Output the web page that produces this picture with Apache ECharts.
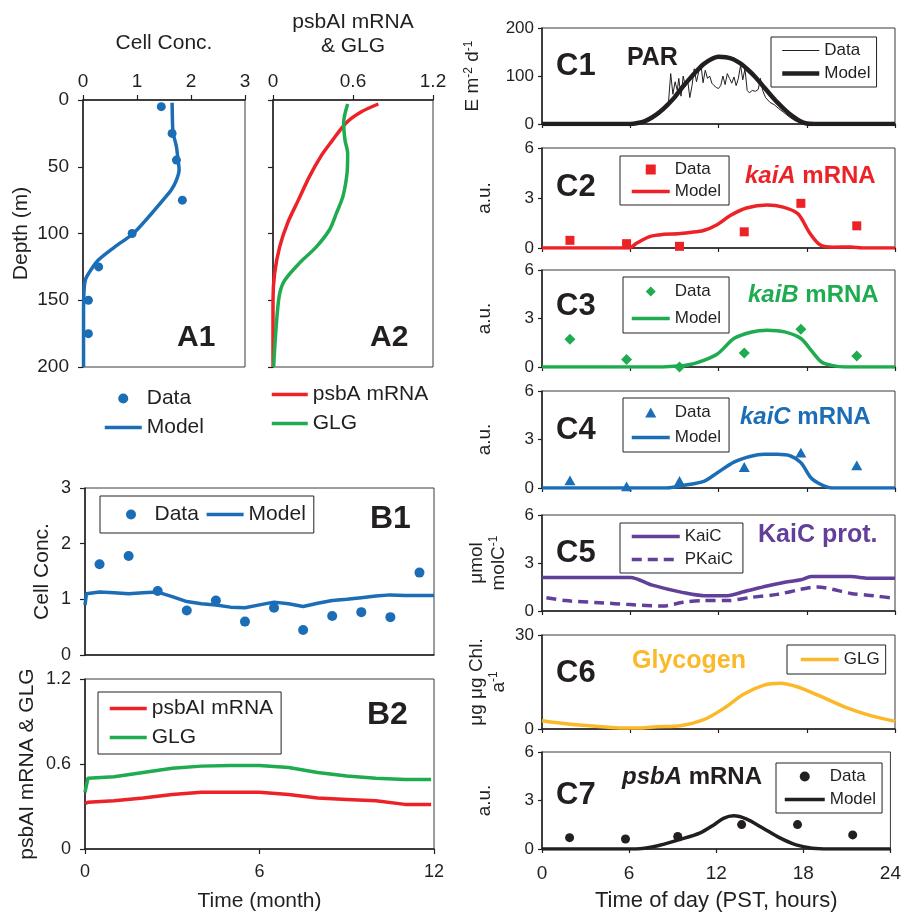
<!DOCTYPE html>
<html>
<head>
<meta charset="utf-8">
<script src="https://cdn.jsdelivr.net/npm/echarts@6/dist/echarts.min.js"></script>
<style>
  html, body { margin: 0; padding: 0; background: #fff; }
  #chart { width: 904px; height: 913px; }
</style>
</head>
<body>
<div id="chart"></div>
<script>
// ---- A1: cell concentration vs depth
var a1DataDepth = [5, 25, 45, 75, 100, 125, 150, 175];
var a1DataConc = [1.45, 1.65, 1.73, 1.84, 0.91, 0.29, 0.1, 0.1];
var a1ModelDepth = [2, 20, 25, 35, 45, 52, 60, 67, 75, 85, 100, 110, 120, 127, 134, 142, 160, 200];
var a1ModelConc = [1.65, 1.66, 1.67, 1.73, 1.76, 1.78, 1.73, 1.64, 1.48, 1.27, 0.93, 0.59, 0.28, 0.15, 0.05, 0.02, 0.01, 0.01];

// ---- A2: psbA mRNA & GLG vs depth
var a2PsbaDepth = [3, 9, 17, 31, 42, 57, 75, 92, 110, 130, 150, 200];
var a2Psba = [0.79, 0.66, 0.55, 0.44, 0.36, 0.275, 0.19, 0.11, 0.05, 0.012, 0, 0];
var a2GlgDepth = [3, 17, 30, 40, 55, 72, 85, 97, 110, 122, 135, 145, 162, 187, 200];
var a2Glg = [0.56, 0.53, 0.54, 0.56, 0.555, 0.525, 0.475, 0.425, 0.325, 0.2, 0.088, 0.05, 0.03, 0.012, 0.005];

// ---- B1: cell concentration over a year
var b1DataMonth = [0.5, 1.5, 2.5, 3.5, 4.5, 5.5, 6.5, 7.5, 8.5, 9.5, 10.5, 11.5];
var b1DataConc = [1.63, 1.78, 1.15, 0.8, 0.98, 0.6, 0.85, 0.45, 0.7, 0.77, 0.68, 1.48];
var b1ModelMonth = [0, 0.05, 0.5, 1, 1.5, 2, 2.5, 3, 3.5, 4, 4.5, 5, 5.5, 6, 6.5, 7, 7.5, 8, 8.5, 9, 9.5, 10, 10.5, 11, 11.5, 12];
var b1ModelConc = [0.9, 1.1, 1.13, 1.12, 1.1, 1.12, 1.13, 1.05, 0.96, 0.92, 0.9, 0.86, 0.85, 0.9, 0.95, 0.92, 0.87, 0.93, 0.98, 1.0, 1.03, 1.06, 1.08, 1.07, 1.07, 1.07];

// ---- B2: psbAI mRNA & GLG over a year
var b2Month = [0, 0.1, 1, 2, 3, 4, 5, 6, 7, 8, 9, 10, 11, 11.9];
var b2Psba = [0.32, 0.33, 0.34, 0.36, 0.385, 0.4, 0.4, 0.4, 0.385, 0.36, 0.35, 0.34, 0.315, 0.315];
var b2Glg = [0.4, 0.5, 0.51, 0.54, 0.57, 0.585, 0.59, 0.59, 0.575, 0.54, 0.515, 0.5, 0.49, 0.49];

// ---- C panels: diel cycle
var cSampleHours = [1.9, 5.75, 9.35, 13.75, 17.6, 21.4];

var c1ModelHour = [0, 6, 6.5, 7, 7.5, 8, 8.5, 9, 9.5, 10, 10.5, 11, 11.5, 12, 12.5, 13, 13.5, 14, 14.5, 15, 15.5, 16, 16.5, 17, 17.5, 18, 18.5, 24];
var c1Model = [0, 0, 2, 6, 14, 25, 39, 55, 75, 93, 110, 125, 135, 140, 139, 135, 126, 113, 98, 80, 62, 45, 30, 17, 7, 1, 0, 0];
var c1DataHour = [0, 6.5, 7, 7.3, 7.6, 8, 8.3, 8.6, 8.75, 8.9, 9.05, 9.2, 9.3, 9.45, 9.6, 9.75, 9.9, 10.05, 10.2, 10.35, 10.5, 10.65, 10.8, 10.95, 11.1, 11.25, 11.4, 11.55, 11.7, 11.85, 12, 12.15, 12.3, 12.45, 12.6, 12.75, 12.9, 13.05, 13.2, 13.35, 13.5, 13.65, 13.8, 13.95, 14.1, 14.3, 14.5, 14.7, 14.85, 15, 15.2, 15.5, 15.8, 16.1, 16.4, 16.8, 17.2, 17.6, 18, 24];
var c1Data = [0, 0, 4, 10, 16, 20, 30, 45, 105, 62, 88, 70, 95, 58, 100, 78, 92, 55, 80, 115, 88, 108, 125, 86, 112, 95, 100, 85, 80, 76, 74, 80, 100, 82, 105, 95, 85, 98, 80, 95, 122, 92, 115, 70, 65, 70, 68, 72, 95, 70, 55, 45, 40, 32, 25, 15, 7, 2, 0, 0];

var c2Data = [0.46, 0.26, 0.1, 0.97, 2.68, 1.33];
var c2ModelHour = [0, 5.9, 6.45, 7.36, 8.26, 9.28, 10.07, 10.98, 11.9, 12.8, 13.9, 15.3, 16.4, 17.4, 18.2, 18.9, 19.8, 21, 21.8, 24];
var c2Model = [0, 0, 0.3, 0.7, 0.82, 0.85, 0.93, 1.05, 1.4, 1.95, 2.4, 2.58, 2.45, 2.05, 0.9, 0.2, 0.05, 0.06, 0, 0];

var c3Data = [1.72, 0.46, 0.0, 0.87, 2.34, 0.68];
var c3ModelHour = [0, 8, 9, 9.6, 10.5, 11.9, 13.05, 14.2, 15.3, 16.5, 17.6, 18.3, 19, 19.7, 20.6, 24];
var c3Model = [0, 0, 0.05, 0.08, 0.25, 0.79, 1.76, 2.15, 2.27, 2.17, 1.76, 1.03, 0.31, 0.1, 0, 0];

var c4Data = [0.47, 0.1, 0.43, 1.3, 2.19, 1.4];
var c4ModelHour = [0, 8.5, 9.6, 11, 11.9, 13.05, 14.2, 15.1, 16, 16.9, 17.6, 18.3, 19, 19.7, 24];
var c4Model = [0, 0, 0.16, 0.41, 0.93, 1.6, 1.96, 2.08, 2.08, 1.98, 1.57, 0.62, 0.2, 0, 0];

var c5KaiCHour = [0, 6, 7.5, 9.6, 11, 12.6, 13.7, 15.3, 16.5, 17.6, 18.3, 21, 22.2, 24];
var c5KaiC = [2.1, 2.1, 1.62, 1.15, 0.96, 0.96, 1.2, 1.56, 1.8, 1.95, 2.15, 2.15, 2.05, 2.05];
var c5PKaiCHour = [0.3, 1.6, 3.9, 6, 8.2, 9.6, 11, 12.6, 14.2, 16, 17.6, 18.7, 21, 22.6, 24];
var c5PKaiC = [0.83, 0.65, 0.52, 0.4, 0.31, 0.55, 0.65, 0.65, 0.85, 1.04, 1.35, 1.5, 1.1, 0.95, 0.79];

var c6Hour = [0, 1.8, 3.9, 5.5, 6.7, 7.8, 9.4, 11, 12.4, 13.7, 15.1, 16.2, 17.4, 18.8, 20.6, 22.4, 24];
var c6Glg = [2.65, 1.6, 0.8, 0.3, 0.3, 0.7, 1.06, 2.97, 6.7, 11.1, 14, 14.6, 13.4, 10.7, 7, 4.2, 2.5];

var c7Data = [0.7, 0.62, 0.77, 1.51, 1.51, 0.87];
var c7ModelHour = [0, 6.5, 7.75, 9.55, 10.9, 11.85, 12.5, 13.2, 14.1, 15.2, 16.35, 17.5, 18.6, 19.75, 24];
var c7Model = [0, 0, 0.15, 0.6, 1.0, 1.5, 1.9, 2.05, 1.85, 1.3, 0.7, 0.25, 0.05, 0, 0];

var font = 'Liberation Sans';
var ink = '#231f20';
var blue = '#1b6db6';
var red = '#ec2227';
var green = '#1fab4f';
var purple = '#623f98';
var yellow = '#fbb829';

// marker shapes as paths so the legend keeps their aspect
var squareIcon = 'path://M0,0H10V10H0Z';
var diamondIcon = 'path://M5,0L10,5L5,10L0,5Z';
var triangleIcon = 'path://M5,0L10,9H0Z';

function pts(xs, ys) {
    return xs.map(function (x, i) { return [x, ys[i]]; });
}

var chart = echarts.init(document.getElementById('chart'), null, { renderer: 'canvas' });

// grid boxes: A1, A2, B1, B2, C1..C7
var cTops = [28, 148, 270, 391, 515, 635, 752];
var cHeights = [96, 100, 97, 97, 96, 94, 99];
var grids = [
    { left: 83, top: 100, width: 162, height: 267 },
    { left: 273, top: 100, width: 160, height: 267 },
    { left: 85, top: 488, width: 349, height: 167 },
    { left: 85, top: 679, width: 349, height: 171 }
];
cTops.forEach(function (t, i) {
    grids.push({ left: 542, top: t, width: 353, height: cHeights[i] });
});
grids.forEach(function (g) {
    g.show = true;
    g.borderColor = '#3a3a3a';
    g.borderWidth = 1;
    g.containLabel = false;
});

function axis(gi, min, max, interval, fs, extra) {
    var a = {
        type: 'value', gridIndex: gi, min: min, max: max, interval: interval,
        axisLine: { show: true, onZero: false, lineStyle: { color: ink, width: 1.5 } },
        axisTick: { show: true, length: 5, lineStyle: { color: ink, width: 1.2 } },
        axisLabel: { color: ink, fontSize: fs, fontFamily: font, margin: 9 },
        splitLine: { show: false },
        nameTextStyle: { color: ink, fontFamily: font, fontSize: 21 }
    };
    return Object.assign(a, extra || {});
}

var xAxes = [
    axis(0, 0, 3, 1, 19, { position: 'top', name: 'Cell Conc.', nameLocation: 'middle', nameGap: 46 }),
    axis(1, 0, 1.2, 0.6, 19, {
        position: 'top', name: 'psbAI mRNA\n& GLG', nameLocation: 'middle', nameGap: 42,
        nameTextStyle: { color: ink, fontFamily: font, fontSize: 21, lineHeight: 24 }
    }),
    axis(2, 0, 12, 6, 18, { axisLabel: { show: false }, axisTick: { show: false } }),
    axis(3, 0, 12, 6, 18, { name: 'Time (month)', nameLocation: 'middle', nameGap: 42, axisLabel: { color: ink, fontSize: 18, fontFamily: font, margin: 14 } })
];
for (var i = 0; i < 7; i++) {
    var ex = { axisLabel: { show: false }, axisTick: { show: true, length: 4, lineStyle: { color: ink, width: 1.2 } } };
    if (i === 6) {
        ex = {
            axisTick: { show: true, length: 4, lineStyle: { color: ink, width: 1.2 } },
            axisLabel: { color: ink, fontSize: 19, fontFamily: font, margin: 15 },
            name: 'Time of day (PST, hours)', nameLocation: 'middle', nameGap: 41,
            nameTextStyle: { color: ink, fontFamily: font, fontSize: 22 }
        };
    }
    xAxes.push(axis(4 + i, 0, 24, 6, 17, ex));
}

var supRich = { s: { fontSize: 12, fontFamily: font, color: ink, verticalAlign: 'top', lineHeight: 12 } };
function cName(name, gap, lh) {
    return {
        name: name, nameLocation: 'middle', nameGap: gap,
        nameTextStyle: { color: ink, fontFamily: font, fontSize: 19, lineHeight: lh || 20, rich: supRich },
        axisTick: { show: true, length: 4, lineStyle: { color: ink, width: 1.2 } },
        axisLabel: { color: ink, fontSize: 17, fontFamily: font, margin: 8 }
    };
}

var yAxes = [
    axis(0, 0, 200, 50, 19, { inverse: true, name: 'Depth (m)', nameLocation: 'middle', nameGap: 51, axisLabel: { color: ink, fontSize: 19, fontFamily: font, margin: 14 } }),
    axis(1, 0, 200, 50, 19, { inverse: true, axisLabel: { show: false } }),
    axis(2, 0, 3, 1, 18, { name: 'Cell Conc.', nameLocation: 'middle', nameGap: 32, axisLabel: { color: ink, fontSize: 18, fontFamily: font, margin: 14 } }),
    axis(3, 0, 1.2, 0.6, 18, { name: 'psbAI mRNA & GLG', nameLocation: 'middle', nameGap: 47, axisLabel: { color: ink, fontSize: 18, fontFamily: font, margin: 14 } }),
    axis(4, 0, 200, 100, 17, cName('E m{s|-2} d{s|-1}', 59)),
    axis(5, 0, 6, 3, 17, cName('a.u.', 47)),
    axis(6, 0, 6, 3, 17, cName('a.u.', 47)),
    axis(7, 0, 6, 3, 17, cName('a.u.', 47)),
    axis(8, 0, 6, 3, 17, cName('μmol\nmolC{s|-1}', 32, 22)),
    axis(9, 0, 30, 30, 17, cName('μg μg Chl.\na{s|-1}', 32, 22)),
    axis(10, 0, 6, 3, 17, cName('a.u.', 47))
];

function lineS(name, gi, data, color, width, extra) {
    var s = {
        name: name, type: 'line', xAxisIndex: gi, yAxisIndex: gi, data: data,
        symbol: 'none', smooth: 0.3, lineStyle: { color: color, width: width }, itemStyle: { color: color },
        z: 2
    };
    return Object.assign(s, extra || {});
}
function dotS(name, gi, data, color, symbol, size) {
    return {
        name: name, type: 'scatter', xAxisIndex: gi, yAxisIndex: gi, data: data,
        symbol: symbol, symbolSize: size, symbolKeepAspect: true,
        itemStyle: { color: color, opacity: 1 }, z: 3
    };
}

var series = [
    lineS('a1|Model', 0, pts(a1ModelConc, a1ModelDepth), blue, 3.5),
    dotS('a1|Data', 0, pts(a1DataConc, a1DataDepth), blue, 'circle', 9),
    lineS('a2|psbA mRNA', 1, pts(a2Psba, a2PsbaDepth), red, 3.5),
    lineS('a2|GLG', 1, pts(a2Glg, a2GlgDepth), green, 3.5),
    lineS('b1|Model', 2, pts(b1ModelMonth, b1ModelConc), blue, 3.5, { smooth: false }),
    dotS('b1|Data', 2, pts(b1DataMonth, b1DataConc), blue, 'circle', 10),
    lineS('b2|psbAI mRNA', 3, pts(b2Month, b2Psba), red, 3.5, { smooth: false }),
    lineS('b2|GLG', 3, pts(b2Month, b2Glg), green, 3.5, { smooth: false }),
    lineS('c1|Data', 4, pts(c1DataHour, c1Data), ink, 1, { smooth: false, z: 3 }),
    lineS('c1|Model', 4, pts(c1ModelHour, c1Model), ink, 4.5),
    dotS('c2|Data', 5, pts(cSampleHours, c2Data), red, squareIcon, 9),
    lineS('c2|Model', 5, pts(c2ModelHour, c2Model), red, 3.5),
    dotS('c3|Data', 6, pts(cSampleHours, c3Data), green, diamondIcon, 11),
    lineS('c3|Model', 6, pts(c3ModelHour, c3Model), green, 3.5),
    dotS('c4|Data', 7, pts(cSampleHours, c4Data), blue, triangleIcon, 11),
    lineS('c4|Model', 7, pts(c4ModelHour, c4Model), blue, 3.5),
    lineS('c5|KaiC', 8, pts(c5KaiCHour, c5KaiC), purple, 3.5),
    lineS('c5|PKaiC', 8, pts(c5PKaiCHour, c5PKaiC), purple, 3.5, { lineStyle: { color: purple, width: 3.5, type: [10, 6] } }),
    lineS('c6|GLG', 9, pts(c6Hour, c6Glg), yellow, 3.5),
    dotS('c7|Data', 10, pts(cSampleHours, c7Data), ink, 'circle', 9),
    lineS('c7|Model', 10, pts(c7ModelHour, c7Model), ink, 3.5)
];

// line entries get an invisible marker so only the stroke shows
function lineItem(name, w) {
    return { name: name, itemStyle: { opacity: 0 }, lineStyle: { width: w || 3.5 } };
}

function legendBox(names, left, top, o) {
    return {
        data: names, left: left, top: top, orient: o.orient || 'vertical',
        itemWidth: o.itemWidth || 37, itemHeight: 10, itemGap: o.itemGap || 6,
        padding: o.padding || 0, selectedMode: false, symbolKeepAspect: true,
        borderColor: o.border ? '#222' : 'transparent', borderWidth: o.border ? 1 : 0,
        textStyle: { color: ink, fontFamily: font, fontSize: o.fontSize || 17 },
        formatter: function (name) { return name.split('|')[1]; }
    };
}

var legends = [
    legendBox(['a1|Data', lineItem('a1|Model')], 103, 388, { fontSize: 21, itemGap: 8 }),
    legendBox([lineItem('a2|psbA mRNA'), lineItem('a2|GLG')], 270, 384, { fontSize: 21, itemGap: 8, itemWidth: 36 }),
    legendBox(['b1|Data', lineItem('b1|Model')], 100, 496, { fontSize: 21, orient: 'horizontal', border: true, padding: [8, 8, 8, 26], itemGap: 6 }),
    legendBox([lineItem('b2|psbAI mRNA'), lineItem('b2|GLG')], 98, 692, { fontSize: 21, border: true, padding: [6, 8, 6, 10], itemGap: 8 }),
    legendBox([lineItem('c1|Data', 1), lineItem('c1|Model', 4.5)], 771, 37, { border: true, padding: [5, 6, 5, 9], itemGap: 6 }),
    legendBox(['c2|Data', lineItem('c2|Model')], 620, 156, { border: true, padding: [5, 8, 5, 10], itemGap: 5, itemWidth: 38 }),
    legendBox(['c3|Data', lineItem('c3|Model')], 623, 277, { border: true, padding: [6, 8, 6, 7], itemGap: 10, itemWidth: 38 }),
    legendBox(['c4|Data', lineItem('c4|Model')], 623, 398, { border: true, padding: [6, 8, 6, 7], itemGap: 8, itemWidth: 38 }),
    legendBox([lineItem('c5|KaiC'), lineItem('c5|PKaiC')], 620, 523, { border: true, padding: [5, 10, 5, 10], itemGap: 6, itemWidth: 48 }),
    legendBox([lineItem('c6|GLG')], 787, 645, { border: true, padding: [6, 6, 6, 12], itemWidth: 38 }),
    legendBox(['c7|Data', lineItem('c7|Model')], 776, 763, { border: true, padding: [5, 6, 5, 7], itemGap: 6, itemWidth: 40 })
];

function label(text, x, cy, size, color, rich) {
    return {
        type: 'text', x: x, y: cy, silent: true,
        style: {
            text: text, fill: color || ink, fontFamily: font, fontSize: size, fontWeight: 'bold',
            verticalAlign: 'middle', align: 'left', rich: rich
        }
    };
}
function italicRich(size, color) {
    return { i: { fontStyle: 'italic', fontWeight: 'bold', fontSize: size, fontFamily: font, fill: color, color: color } };
}

var graphics = [
    label('A1', 177, 338, 30), label('A2', 370, 338, 30),
    label('B1', 370, 519, 32), label('B2', 367, 715, 32)
];
['C1', 'C2', 'C3', 'C4', 'C5', 'C6', 'C7'].forEach(function (t, i) {
    graphics.push(label(t, 556, [66, 187, 306, 430, 553, 673, 795][i], 31));
});
graphics.push(label('PAR', 627, 58, 25));
graphics.push(label('{i|kaiA} mRNA', 745, 176, 24, red, italicRich(24, red)));
graphics.push(label('{i|kaiB} mRNA', 748, 295, 24, green, italicRich(24, green)));
graphics.push(label('{i|kaiC} mRNA', 740, 417, 24, blue, italicRich(24, blue)));
graphics.push(label('KaiC prot.', 758, 535, 25, purple));
graphics.push(label('Glycogen', 632, 661, 25, yellow));
graphics.push(label('{i|psbA} mRNA', 622, 777, 24, ink, italicRich(24, ink)));

var option = {
    animation: false,
    backgroundColor: '#fff',
    textStyle: { fontFamily: font },
    grid: grids,
    xAxis: xAxes,
    yAxis: yAxes,
    legend: legends,
    graphic: graphics,
    series: series
};

chart.setOption(option);
window.addEventListener('resize', chart.resize);
</script>
</body>
</html>
